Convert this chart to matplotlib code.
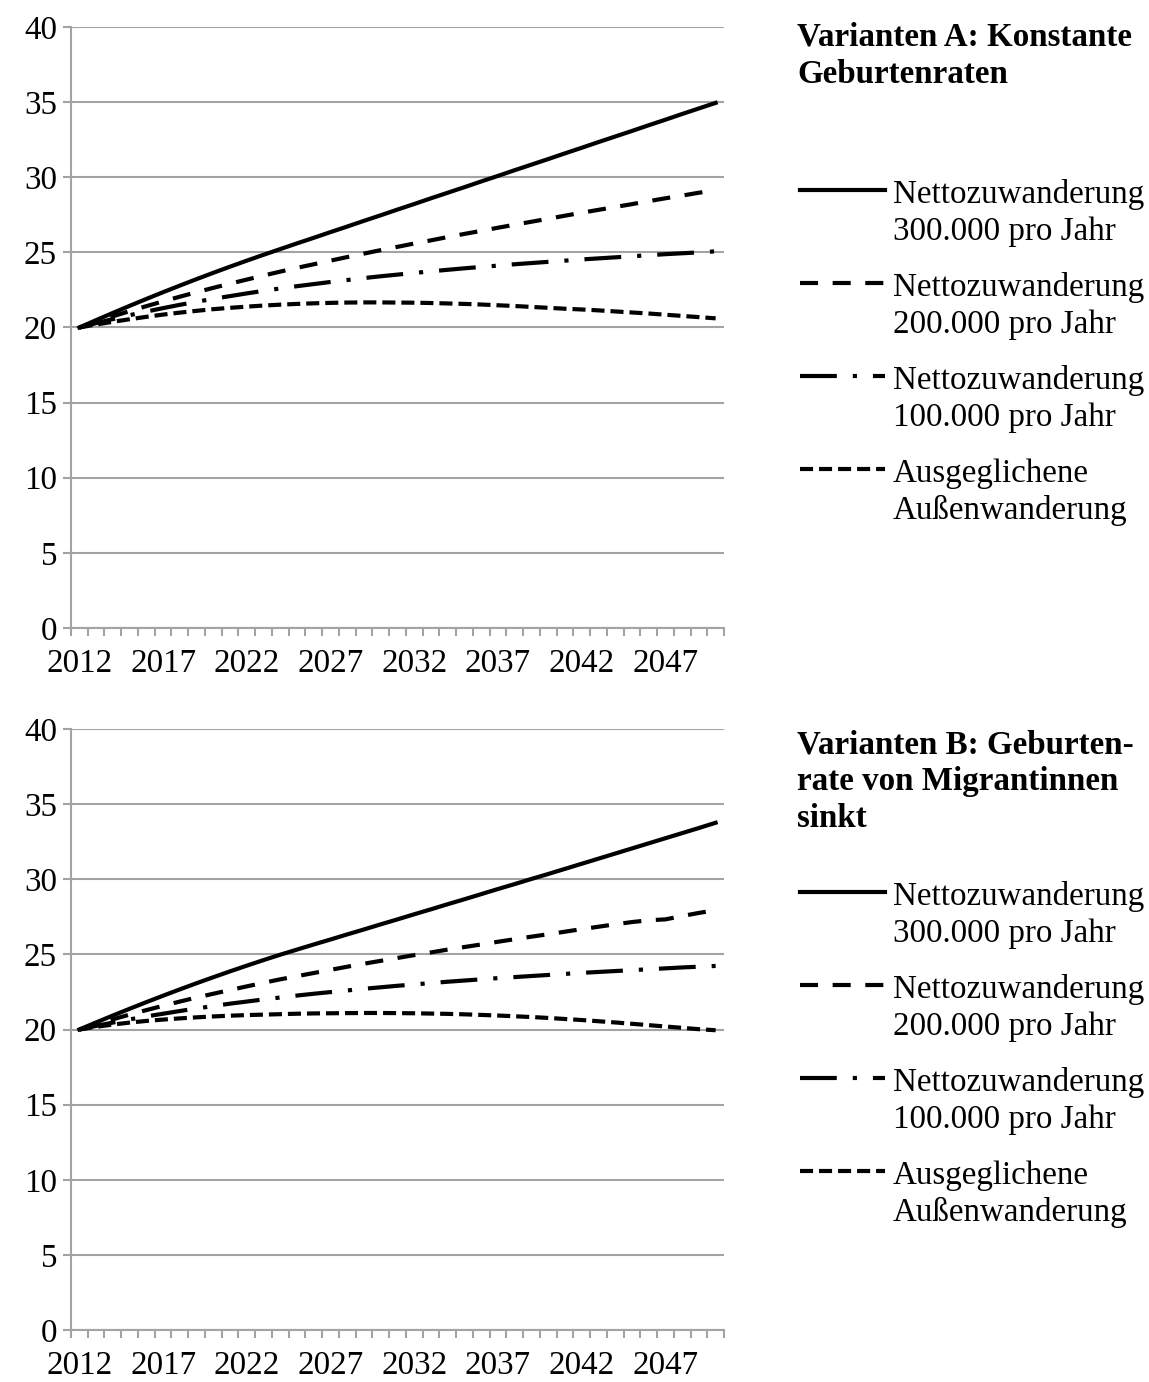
import numpy as np
import matplotlib.pyplot as plt
from matplotlib.lines import Line2D

plt.rcParams['font.family'] = ['Liberation Serif', 'DejaVu Serif']
plt.rcParams['lines.scale_dashes'] = False

years = list(range(2012, 2051))

# Varianten A: konstante Geburtenraten
a_300 = [20.00, 20.49, 20.97, 21.44, 21.90, 22.35, 22.79, 23.22, 23.64, 24.05,
         24.45, 24.84, 25.22, 25.60, 25.97, 26.35, 26.72, 27.10, 27.47, 27.85,
         28.22, 28.60, 28.97, 29.34, 29.72, 30.09, 30.47, 30.84, 31.21, 31.59,
         31.96, 32.34, 32.71, 33.08, 33.46, 33.83, 34.21, 34.58, 34.95]
a_200 = [20.00, 20.38, 20.74, 21.09, 21.42, 21.74, 22.05, 22.35, 22.64, 22.92,
         23.19, 23.46, 23.72, 23.97, 24.21, 24.45, 24.69, 24.92, 25.15, 25.37,
         25.59, 25.80, 26.02, 26.23, 26.43, 26.64, 26.84, 27.04, 27.24, 27.44,
         27.64, 27.83, 28.02, 28.21, 28.41, 28.60, 28.78, 28.97, 29.12]
a_100 = [20.00, 20.29, 20.56, 20.82, 21.06, 21.29, 21.51, 21.71, 21.91, 22.09,
         22.27, 22.44, 22.60, 22.75, 22.89, 23.03, 23.16, 23.29, 23.41, 23.52,
         23.63, 23.74, 23.84, 23.94, 24.03, 24.12, 24.21, 24.29, 24.37, 24.45,
         24.53, 24.60, 24.67, 24.74, 24.81, 24.88, 24.94, 25.00, 25.07]
a_0 = [20.00, 20.20, 20.38, 20.55, 20.71, 20.86, 20.99, 21.11, 21.22, 21.31,
       21.39, 21.46, 21.52, 21.57, 21.61, 21.64, 21.66, 21.67, 21.67, 21.66,
       21.65, 21.63, 21.60, 21.57, 21.53, 21.48, 21.43, 21.37, 21.31, 21.25,
       21.20, 21.14, 21.07, 21.00, 20.93, 20.85, 20.77, 20.69, 20.61]

# Varianten B: Geburtenrate von Migrantinnen sinkt
b_300 = [20.00, 20.47, 20.93, 21.38, 21.82, 22.25, 22.67, 23.08, 23.48, 23.87,
         24.25, 24.62, 24.98, 25.32, 25.66, 25.99, 26.33, 26.66, 27.00, 27.33,
         27.67, 28.00, 28.34, 28.67, 29.01, 29.35, 29.68, 30.02, 30.35, 30.69,
         31.03, 31.37, 31.71, 32.05, 32.39, 32.73, 33.07, 33.41, 33.76]
b_200 = [20.00, 20.35, 20.68, 20.99, 21.29, 21.58, 21.86, 22.13, 22.38, 22.63,
         22.87, 23.11, 23.34, 23.55, 23.76, 23.97, 24.18, 24.38, 24.57, 24.76,
         24.95, 25.13, 25.32, 25.49, 25.66, 25.84, 26.01, 26.18, 26.34, 26.51,
         26.68, 26.84, 27.00, 27.15, 27.27, 27.33, 27.55, 27.76, 27.94]
b_100 = [20.00, 20.24, 20.46, 20.67, 20.87, 21.05, 21.23, 21.40, 21.56, 21.72,
         21.86, 22.00, 22.13, 22.26, 22.38, 22.49, 22.60, 22.71, 22.81, 22.91,
         23.00, 23.09, 23.18, 23.26, 23.34, 23.42, 23.49, 23.56, 23.63, 23.70,
         23.77, 23.83, 23.89, 23.95, 24.01, 24.07, 24.13, 24.18, 24.23]
b_0 = [20.00, 20.18, 20.33, 20.46, 20.57, 20.66, 20.74, 20.81, 20.87, 20.92,
       20.96, 20.99, 21.02, 21.05, 21.07, 21.08, 21.09, 21.10, 21.10, 21.09,
       21.08, 21.06, 21.04, 21.01, 20.97, 20.93, 20.88, 20.83, 20.77, 20.70,
       20.63, 20.55, 20.47, 20.38, 20.29, 20.20, 20.11, 20.02, 19.95]

legend_labels = [("Nettozuwanderung", "300.000 pro Jahr"),
                 ("Nettozuwanderung", "200.000 pro Jahr"),
                 ("Nettozuwanderung", "100.000 pro Jahr"),
                 ("Ausgeglichene", "Außenwanderung")]
title_a = ["Varianten A: Konstante", "Geburtenraten"]
title_b = ["Varianten B: Geburten-", "rate von Migrantinnen", "sinkt"]

line_styles = ['-', (0, (13, 10.5)), (0, (26.5, 11.5, 3, 11.5)), (0, (9.4, 4.3))]
grey = '#a3a3a3'
fs = 23.8
lw = 3.0

W, H = 1149, 1382
fig = plt.figure(figsize=(W / 100, H / 100), dpi=100)


def fx(x):
    return x / W


def fy(y):
    return 1 - y / H


def panel(top, series, title, title_base, legend_base):
    ax = fig.add_axes([fx(71), fy(top + 601), (724 - 71) / W, 601 / H])
    x = np.arange(len(years))
    for vals, ls in zip(series, line_styles):
        ax.plot(x, vals, color='black', lw=lw, ls=ls)
    ax.set_xlim(-0.5, len(years) - 0.5)
    ax.set_ylim(0, 40)
    ax.set_yticks(range(0, 41, 5))
    ax.set_xticks(x[::5])
    ax.set_xticklabels([str(y) for y in years[::5]])
    ax.set_xticks(np.arange(-0.5, len(years), 1), minor=True)
    ax.tick_params(axis='x', which='major', length=0, pad=15, labelsize=fs)
    ax.tick_params(axis='x', which='minor', length=6, width=1.5, color=grey, direction='out')
    ax.tick_params(axis='y', length=6, width=1.5, color=grey, pad=4, labelsize=fs)
    ax.grid(axis='y', color=grey, lw=1.5)
    ax.set_axisbelow(True)
    for s in ['top', 'right']:
        ax.spines[s].set_visible(False)
    for s in ['left', 'bottom']:
        ax.spines[s].set_color(grey)
        ax.spines[s].set_linewidth(1.5)

    for i, t in enumerate(title):
        fig.text(fx(797), fy(title_base + 37 * i), t, fontsize=fs, weight='bold', va='baseline')

    for i, ((l1, l2), ls) in enumerate(zip(legend_labels, line_styles)):
        base = legend_base + 93 * i
        fig.add_artist(Line2D([fx(800), fx(885)], [fy(base - 13)] * 2, transform=fig.transFigure,
                              color='black', lw=lw, ls=ls))
        fig.text(fx(893), fy(base), l1, fontsize=fs, va='baseline')
        fig.text(fx(893), fy(base + 37), l2, fontsize=fs, va='baseline')
    return ax


panel(27, [a_300, a_200, a_100, a_0], title_a, 46, 203)
panel(729, [b_300, b_200, b_100, b_0], title_b, 753, 905)

fig.savefig('out.png', dpi=100)
